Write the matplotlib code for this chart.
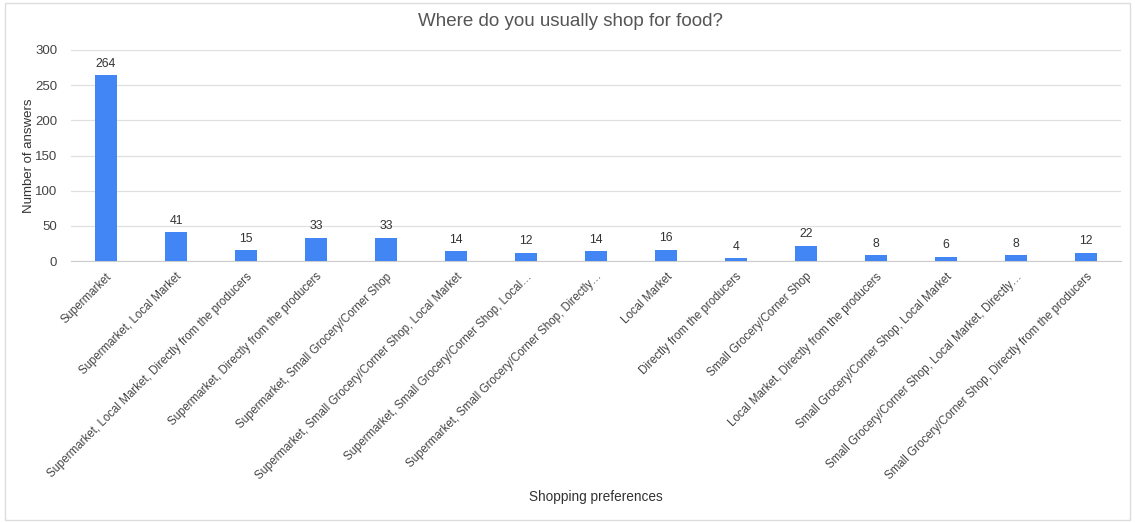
import matplotlib
matplotlib.use("Agg")
import matplotlib.pyplot as plt
from matplotlib.patches import Rectangle

plt.rcParams['font.family'] = ['Liberation Sans', 'DejaVu Sans']

categories = [
    "Supermarket",
    "Supermarket, Local Market",
    "Supermarket, Local Market, Directly from the producers",
    "Supermarket, Directly from the producers",
    "Supermarket, Small Grocery/Corner Shop",
    "Supermarket, Small Grocery/Corner Shop, Local Market",
    "Supermarket, Small Grocery/Corner Shop, Local\u2026",
    "Supermarket, Small Grocery/Corner Shop, Directly\u2026",
    "Local Market",
    "Directly from the producers",
    "Small Grocery/Corner Shop",
    "Local Market, Directly from the producers",
    "Small Grocery/Corner Shop, Local Market",
    "Small Grocery/Corner Shop, Local Market, Directly\u2026",
    "Small Grocery/Corner Shop, Directly from the producers",
]
answers = [264, 41, 15, 33, 33, 14, 12, 14, 16, 4, 22, 8, 6, 8, 12]
y_ticks = [0, 50, 100, 150, 200, 250, 300]

W, H = 1135, 523
fig = plt.figure(figsize=(W / 100, H / 100), dpi=100)
ax = fig.add_axes([71 / W, 1 - 261 / H, 1050 / W, 211 / H])

x = range(len(categories))
ax.bar(x, answers, width=0.31, color="#4285f4", zorder=3)
for xi, v in zip(x, answers):
    ax.annotate(str(v), (xi, v), xytext=(0, 4), textcoords="offset points",
                ha="center", va="bottom", fontsize=8.8, color="#333333")

ax.set_xlim(-0.5, len(categories) - 0.5)
ax.set_ylim(0, 300)
ax.set_yticks(y_ticks)
ax.tick_params(axis="y", length=0, labelsize=9.5, labelcolor="#444444", pad=10)
ax.tick_params(axis="x", length=0, labelsize=8.3, labelcolor="#444444", pad=7)
ax.set_xticks(list(x))
ax.set_xticklabels(categories, rotation=45, ha="right", rotation_mode="anchor")
ax.grid(axis="y", color="#e0e0e0", linewidth=0.9, zorder=0)
for side in ["top", "right", "left"]:
    ax.spines[side].set_visible(False)
ax.spines["bottom"].set_color("#cccccc")

ax.set_ylabel("Number of answers", fontsize=9.5, color="#333333", labelpad=0)
fig.text(596 / W, 1 - 497 / H, "Shopping preferences", ha="center", va="center",
         fontsize=9.8, color="#333333")
fig.text(570 / W, 1 - 22 / H, "Where do you usually shop for food?", ha="center",
         va="center", fontsize=13.5, color="#555555")

# light frame round the whole chart
fig.add_artist(Rectangle((5 / W, 3 / H), 1125 / W, 517 / H, transform=fig.transFigure,
                         fill=False, edgecolor="#dddddd", linewidth=1))

fig.savefig("out.png", dpi=100)
